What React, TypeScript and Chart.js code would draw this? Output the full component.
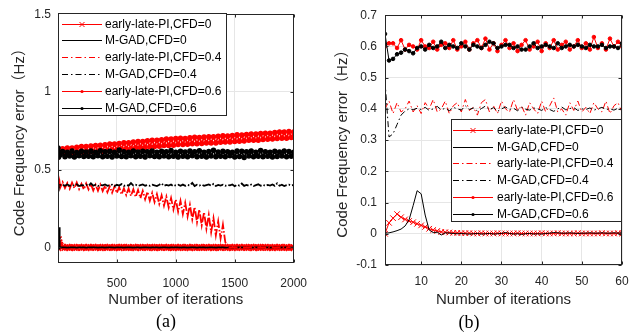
import React, { useEffect, useRef } from 'react';
import { Chart, registerables } from 'chart.js';

Chart.register(...registerables);

const SANS = '"Liberation Sans", Arial, Helvetica, "Noto Sans CJK SC", sans-serif';

const LABELS = [
  'early-late-PI,CFD=0',
  'M-GAD,CFD=0',
  'early-late-PI,CFD=0.4',
  'M-GAD,CFD=0.4',
  'early-late-PI,CFD=0.6',
  'M-GAD,CFD=0.6',
];

const X_TITLE = 'Number of iterations';
const Y_TITLE = 'Code Frequency error（Hz）';

// ---------- panel (a) ----------
const A_ITER = [
  1, 5, 10, 15,
  20, 40, 60, 80, 100, 120, 140, 160, 180, 200,
  220, 240, 260, 280, 300, 320, 340, 360, 380, 400,
  420, 440, 460, 480, 500, 520, 540, 560, 580, 600,
  620, 640, 660, 680, 700, 720, 740, 760, 780, 800,
  820, 840, 860, 880, 900, 920, 940, 960, 980, 1000,
  1020, 1040, 1060, 1080, 1100, 1120, 1140, 1160, 1180, 1200,
  1220, 1240, 1260, 1280, 1300, 1320, 1340, 1360, 1380, 1400,
  1420, 1440, 1460, 1480, 1500, 1520, 1540, 1560, 1580, 1600,
  1620, 1640, 1660, 1680, 1700, 1720, 1740, 1760, 1780, 1800,
  1820, 1840, 1860, 1880, 1900, 1920, 1940, 1960, 1980, 2000,
];

const A_PI_0 = [
  0, 0.05, 0.03, 0.015, 0.006,
  0.002, -0.001, 0.001, -0.002, 0.001, 0.0, -0.001, 0.002, -0.001, 0.001,
  -0.002, 0.001, 0.0, 0.002, -0.001, 0.001, -0.002, 0.0, 0.001, -0.001,
  0.002, -0.001, 0.0, 0.001, -0.002, 0.001, 0.002, -0.001, 0.0, -0.001,
  0.001, -0.002, 0.002, 0.0, -0.001, 0.001, -0.001, 0.002, 0.0, -0.002,
  0.001, 0.0, -0.001, 0.002, -0.001, 0.001, 0.0, -0.002, 0.001, -0.001,
  0.002, 0.0, -0.001, 0.001, -0.002, 0.002, 0.0, -0.001, 0.001, -0.001,
  0.0, 0.002, -0.001, 0.001, -0.002, 0.0, 0.001, -0.001, 0.002, 0.0,
  -0.001, 0.001, -0.002, 0.001, 0.0, 0.002, -0.001, 0.001, -0.001, 0.0,
  0.002, -0.002, 0.001, 0.0, -0.001, 0.001, 0.002, -0.001, 0.0, -0.002,
  0.001, -0.001, 0.002, 0.0, -0.001, 0.001, -0.002, 0.001, 0.0,
];

const A_GAD_0 = [
  0.002, 0.015, 0.13, -0.003, 0.002,
  0.001, 0, -0.001, 0.001, 0, 0.001, -0.001, 0, 0.001, 0,
  -0.001, 0.001, 0, 0, 0.001, -0.001, 0.001, 0, -0.001, 0.001,
  0, 0.001, -0.001, 0, 0.001, 0, -0.001, 0.001, 0, 0.001,
  -0.001, 0, 0.001, -0.001, 0, 0.001, 0, -0.001, 0.001, 0,
  0.001, -0.001, 0, 0.001, 0, -0.001, 0.001, 0, 0, 0.001,
  -0.001, 0.001, 0, -0.001, 0.001, 0, 0.001, -0.001, 0, 0.001,
  0, -0.001, 0.001, 0, 0.001, -0.001, 0, 0.001, 0, -0.001,
  0.001, 0, -0.001, 0.001, 0, 0, 0.001, -0.001, 0.001, 0,
  -0.001, 0.001, 0, 0.001, -0.001, 0, 0.001, 0, -0.001, 0.001,
  0, 0.001, -0.001, 0, 0.001, 0, -0.001, 0.001, 0,
];

const A_PI_04 = [
  0.4, 0.42, 0.38, 0.415, 0.385,
  0.420, 0.382, 0.414, 0.377, 0.417, 0.381, 0.418, 0.375, 0.410, 0.373,
  0.412, 0.373, 0.408, 0.366, 0.403, 0.364, 0.404, 0.363, 0.398, 0.355,
  0.393, 0.352, 0.392, 0.350, 0.387, 0.341, 0.380, 0.337, 0.379, 0.331,
  0.374, 0.325, 0.369, 0.317, 0.364, 0.310, 0.358, 0.301, 0.351, 0.292,
  0.343, 0.280, 0.335, 0.269, 0.327, 0.257, 0.318, 0.244, 0.309, 0.230,
  0.299, 0.215, 0.287, 0.199, 0.274, 0.181, 0.260, 0.162, 0.244, 0.142,
  0.227, 0.120, 0.209, 0.098, 0.188, 0.078, 0.168, 0.058, 0.146, 0.035,
  0.0,
  0.001, -0.001, 0.002, 0, -0.001, 0.001, -0.002, 0.001, 0, 0.002,
  -0.001, 0.001, 0, -0.002, 0.001, 0.001, -0.001, 0, 0.002, -0.001,
  0.001, -0.001, 0, 0.002, -0.001, 0.001, 0, -0.001,
];

const A_GAD_04 = [
  0.48, 0.36, 0.4, 0.398, 0.402,
  0.403, 0.397, 0.405, 0.396, 0.402, 0.398, 0.406, 0.395, 0.401, 0.399,
  0.404, 0.396, 0.412, 0.397, 0.403, 0.395, 0.402, 0.399, 0.405, 0.396,
  0.401, 0.404, 0.394, 0.403, 0.398, 0.407, 0.396, 0.402, 0.397, 0.414,
  0.398, 0.403, 0.395, 0.401, 0.405, 0.397, 0.402, 0.396, 0.404, 0.399,
  0.395, 0.403, 0.412, 0.396, 0.402, 0.398, 0.405, 0.394, 0.401, 0.403,
  0.397, 0.404, 0.396, 0.402, 0.399, 0.415, 0.395, 0.403, 0.398, 0.404,
  0.396, 0.401, 0.405, 0.397, 0.409, 0.395, 0.402, 0.398, 0.404, 0.396,
  0.402, 0.399, 0.405, 0.394, 0.403, 0.398, 0.411, 0.396, 0.402, 0.397,
  0.404, 0.395, 0.401, 0.406, 0.397, 0.403, 0.396, 0.402, 0.398, 0.405,
  0.396, 0.412, 0.397, 0.403, 0.395, 0.401, 0.404, 0.398, 0.402,
];

const A_PI_06 = [
  0.61, 0.6, 0.615, 0.605, 0.62,
  0.634, 0.599, 0.639, 0.600, 0.639, 0.602, 0.644, 0.607, 0.649, 0.608,
  0.649, 0.610, 0.653, 0.616, 0.656, 0.617, 0.657, 0.618, 0.661, 0.623,
  0.665, 0.625, 0.665, 0.627, 0.669, 0.632, 0.674, 0.634, 0.674, 0.635,
  0.678, 0.641, 0.682, 0.642, 0.682, 0.642, 0.686, 0.648, 0.689, 0.649,
  0.689, 0.651, 0.693, 0.655, 0.697, 0.656, 0.697, 0.658, 0.700, 0.662,
  0.703, 0.662, 0.701, 0.663, 0.705, 0.667, 0.708, 0.667, 0.707, 0.668,
  0.710, 0.672, 0.712, 0.672, 0.712, 0.672, 0.715, 0.677, 0.718, 0.678,
  0.716, 0.678, 0.720, 0.682, 0.724, 0.683, 0.723, 0.684, 0.726, 0.689,
  0.729, 0.689, 0.729, 0.689, 0.732, 0.694, 0.735, 0.696, 0.735, 0.697,
  0.739, 0.701, 0.743, 0.702, 0.742, 0.703, 0.745, 0.707, 0.743,
];

const A_GAD_06 = [
  0.64, 0.58, 0.6, 0.61, 0.595,
  0.617, 0.584, 0.613, 0.588, 0.621, 0.582, 0.611, 0.590, 0.618, 0.585,
  0.614, 0.587, 0.620, 0.583, 0.612, 0.589, 0.622, 0.584, 0.615, 0.586,
  0.619, 0.582, 0.613, 0.588, 0.626, 0.585, 0.616, 0.583, 0.612, 0.590,
  0.620, 0.584, 0.614, 0.587, 0.618, 0.581, 0.615, 0.589, 0.621, 0.585,
  0.613, 0.583, 0.619, 0.588, 0.616, 0.584, 0.624, 0.586, 0.612, 0.582,
  0.618, 0.587, 0.614, 0.583, 0.620, 0.589, 0.615, 0.584, 0.622, 0.586,
  0.613, 0.581, 0.617, 0.588, 0.625, 0.583, 0.614, 0.587, 0.619, 0.584,
  0.616, 0.589, 0.612, 0.582, 0.621, 0.585, 0.618, 0.578, 0.615, 0.588,
  0.620, 0.583, 0.613, 0.587, 0.623, 0.584, 0.616, 0.586, 0.612, 0.582,
  0.619, 0.585, 0.614, 0.588, 0.621, 0.583, 0.617, 0.586, 0.612,
];

const A_X_TICKS = [500, 1000, 1500, 2000];
const A_Y_TICKS = [0, 0.5, 1, 1.5];

// ---------- panel (b) ----------
const B_ITER = [
  1, 2, 3, 4, 5, 6, 7, 8, 9, 10,
  11, 12, 13, 14, 15, 16, 17, 18, 19, 20,
  21, 22, 23, 24, 25, 26, 27, 28, 29, 30,
  31, 32, 33, 34, 35, 36, 37, 38, 39, 40,
  41, 42, 43, 44, 45, 46, 47, 48, 49, 50,
  51, 52, 53, 54, 55, 56, 57, 58, 59, 60,
];

const B_PI_0 = [
  0, 0.035, 0.05, 0.063, 0.053, 0.046, 0.041, 0.037, 0.032, 0.027,
  0.022, 0.016, 0.012, 0.009, 0.006, 0.005, 0.004, 0.003, 0.003, 0.002,
  0.002, 0.002, 0.001, 0.001, 0.002, 0.001, 0.001, 0.001, 0.002, 0.001,
  0.001, 0.001, 0.001, 0.002, 0.001, 0.001, 0.001, 0.001, 0.001, 0.002,
  0.001, 0.001, 0.001, 0.002, 0.001, 0.001, 0.001, 0.001, 0.002, 0.001,
  0.001, 0.001, 0.001, 0.001, 0.002, 0.001, 0.001, 0.001, 0.002, 0.001,
];

const B_GAD_0 = [
  0.002, 0.003, 0.006, 0.01, 0.015, 0.025, 0.045, 0.09, 0.138, 0.128,
  0.06, 0.012, 0.004, 0.005, -0.004, 0.003, 0.002, 0.001, 0.0, 0.001,
  0.0, -0.001, 0.0, 0.001, -0.001, 0.0, 0.001, -0.001, 0.0, 0.001,
  0.004, 0.001, -0.001, 0.0, -0.002, 0.0, 0.001, -0.001, 0.0, -0.001,
  0.001, 0.002, 0.004, 0.003, 0.002, 0.002, 0.003, 0.002, 0.001, 0.002,
  0.002, 0.003, 0.002, 0.002, 0.003, 0.002, 0.002, 0.003, 0.002, 0.003,
];

const B_PI_04 = [
  0.40, 0.425, 0.385, 0.42, 0.39, 0.40, 0.425, 0.39, 0.41, 0.385,
  0.42, 0.40, 0.43, 0.39, 0.40, 0.425, 0.385, 0.41, 0.42, 0.39,
  0.43, 0.395, 0.405, 0.38, 0.42, 0.43, 0.39, 0.41, 0.385, 0.425,
  0.40, 0.39, 0.43, 0.395, 0.41, 0.38, 0.42, 0.40, 0.385, 0.425,
  0.39, 0.41, 0.435, 0.39, 0.40, 0.38, 0.42, 0.395, 0.425, 0.39,
  0.405, 0.385, 0.42, 0.40, 0.39, 0.425, 0.385, 0.41, 0.42, 0.39,
];

const B_GAD_04 = [
  0.49, 0.31, 0.32, 0.35, 0.38, 0.393, 0.40, 0.397, 0.402, 0.398,
  0.405, 0.395, 0.40, 0.408, 0.397, 0.402, 0.394, 0.405, 0.40, 0.396,
  0.41, 0.398, 0.403, 0.393, 0.401, 0.409, 0.397, 0.404, 0.392, 0.40,
  0.406, 0.398, 0.402, 0.394, 0.405, 0.399, 0.396, 0.403, 0.40, 0.395,
  0.404, 0.398, 0.392, 0.40, 0.406, 0.397, 0.401, 0.404, 0.395, 0.40,
  0.398, 0.403, 0.396, 0.40, 0.405, 0.398, 0.40, 0.396, 0.402, 0.397,
];

const B_PI_06 = [
  0.60, 0.61, 0.61, 0.595, 0.62, 0.59, 0.605, 0.60, 0.59, 0.62,
  0.60, 0.595, 0.615, 0.59, 0.605, 0.61, 0.595, 0.62, 0.59, 0.60,
  0.615, 0.59, 0.61, 0.62, 0.595, 0.625, 0.59, 0.61, 0.585, 0.605,
  0.62, 0.595, 0.61, 0.585, 0.605, 0.62, 0.59, 0.60, 0.615, 0.585,
  0.61, 0.595, 0.62, 0.59, 0.605, 0.615, 0.59, 0.60, 0.62, 0.595,
  0.61, 0.59, 0.63, 0.595, 0.61, 0.59, 0.625, 0.60, 0.615, 0.60,
];

const B_GAD_06 = [
  0.64, 0.555, 0.56, 0.575, 0.58, 0.59, 0.585, 0.578, 0.595, 0.60,
  0.59, 0.605, 0.595, 0.60, 0.615, 0.595, 0.605, 0.60, 0.595, 0.61,
  0.60, 0.59, 0.605, 0.60, 0.595, 0.605, 0.615, 0.61, 0.595, 0.60,
  0.605, 0.605, 0.595, 0.60, 0.59, 0.59, 0.60, 0.61, 0.595, 0.60,
  0.605, 0.60, 0.595, 0.61, 0.595, 0.60, 0.605, 0.60, 0.605, 0.60,
  0.595, 0.605, 0.60, 0.60, 0.605, 0.595, 0.60, 0.60, 0.595, 0.61,
];

const B_X_TICKS = [10, 20, 30, 40, 50, 60];
const B_Y_TICKS = [-0.1, 0, 0.1, 0.2, 0.3, 0.4, 0.5, 0.6, 0.7];

// ---------- styles ----------
const DASHDOT = [6, 3, 1.5, 3];
const DASHDOT_DENSE = [9, 2, 1.5, 2];
const STYLES = [
  { color: '#ff0000', dashed: false, marker: 'crossRot' },
  { color: '#000000', dashed: false, marker: '' },
  { color: '#ff0000', dashed: true, marker: '' },
  { color: '#000000', dashed: true, marker: '' },
  { color: '#ff0000', dashed: false, marker: 'circle' },
  { color: '#000000', dashed: false, marker: 'circle' },
];

type DrawCfg = { crossR: number; dotR: number; lw: number; pbw: number; dash: number[] };

function buildDatasets(iter: number[], series: number[][], d: DrawCfg) {
  return series.map((vals, i) => {
    const st = STYLES[i];
    const r = st.marker === 'crossRot' ? d.crossR : st.marker === 'circle' ? d.dotR : 0;
    return {
      label: LABELS[i],
      data: iter.map((x, k) => ({ x, y: vals[k] })),
      borderColor: st.color,
      backgroundColor: st.color,
      borderWidth: d.lw,
      borderDash: st.dashed ? d.dash : [],
      legendDash: st.dashed ? DASHDOT : [],
      pointStyle: st.marker || 'circle',
      pointRadius: r,
      pointBorderColor: st.color,
      pointBackgroundColor: st.color,
      pointBorderWidth: d.pbw,
      tension: 0,
      order: series.length - i,
    };
  });
}

const framePlugin = {
  id: 'matlabFrame',
  afterDatasetsDraw(chart: any) {
    const { ctx, chartArea: a, scales } = chart;
    const L = Math.round(a.left) + 0.5;
    const R = Math.round(a.right) - 0.5;
    const T = Math.round(a.top) + 0.5;
    const B = Math.round(a.bottom) - 0.5;
    ctx.save();
    ctx.setLineDash([]);
    ctx.strokeStyle = '#262626';
    ctx.lineWidth = 1;
    ctx.strokeRect(L, T, R - L, B - T);
    const tl = 3;
    ctx.beginPath();
    for (const t of scales.x.ticks) {
      const px = Math.round(scales.x.getPixelForValue(t.value)) + 0.5;
      ctx.moveTo(px, B); ctx.lineTo(px, B - tl);
      ctx.moveTo(px, T); ctx.lineTo(px, T + tl);
    }
    for (const t of scales.y.ticks) {
      const py = Math.round(scales.y.getPixelForValue(t.value)) + 0.5;
      ctx.moveTo(L, py); ctx.lineTo(L + tl, py);
      ctx.moveTo(R, py); ctx.lineTo(R - tl, py);
    }
    ctx.stroke();
    ctx.restore();
  },
};

type LegendCfg = { x: number; y: number; w: number; h: number; row0: number; dy: number; l0: number; l1: number; tx: number };

function makeLegendPlugin(cfg: LegendCfg) {
  return {
    id: 'boxLegend',
    afterDraw(chart: any) {
      const { ctx } = chart;
      ctx.save();
      ctx.setLineDash([]);
      ctx.fillStyle = '#ffffff';
      ctx.fillRect(cfg.x, cfg.y, cfg.w, cfg.h);
      ctx.strokeStyle = '#262626';
      ctx.lineWidth = 1;
      ctx.strokeRect(cfg.x + 0.5, cfg.y + 0.5, cfg.w - 1, cfg.h - 1);
      ctx.font = '12px ' + SANS;
      ctx.textBaseline = 'middle';
      ctx.textAlign = 'left';
      chart.data.datasets.forEach((ds: any, i: number) => {
        const y = Math.round(cfg.row0 + i * cfg.dy) + 0.5;
        ctx.strokeStyle = ds.borderColor;
        ctx.lineWidth = 1;
        ctx.setLineDash(ds.legendDash || []);
        ctx.beginPath();
        ctx.moveTo(cfg.l0, y);
        ctx.lineTo(cfg.l1, y);
        ctx.stroke();
        ctx.setLineDash([]);
        const mx = (cfg.l0 + cfg.l1) / 2;
        if (ds.pointRadius > 0) {
          if (ds.pointStyle === 'crossRot') {
            const s = 2.5;
            ctx.beginPath();
            ctx.moveTo(mx - s, y - s); ctx.lineTo(mx + s, y + s);
            ctx.moveTo(mx - s, y + s); ctx.lineTo(mx + s, y - s);
            ctx.stroke();
          } else {
            ctx.fillStyle = ds.borderColor;
            ctx.beginPath();
            ctx.arc(mx, y, 1.6, 0, Math.PI * 2);
            ctx.fill();
          }
        }
        ctx.fillStyle = '#000000';
        ctx.fillText(ds.label, cfg.tx, y);
      });
      ctx.restore();
    },
  };
}

type PanelCfg = {
  xMin: number; xMax: number; yMin: number; yMax: number;
  xTicks: number[]; yTicks: number[];
  yAxisW: number; xAxisH: number;
  padR: number; padT: number; padB: number;
  yTitlePad: number; xTickPad: number; yTickPad: number;
};

function makeOptions(p: PanelCfg): any {
  return {
    responsive: false,
    animation: false,
    events: [],
    layout: { padding: { left: 0, right: p.padR, top: p.padT, bottom: p.padB } },
    plugins: { legend: { display: false }, tooltip: { enabled: false }, title: { display: false } },
    scales: {
      x: {
        type: 'linear',
        min: p.xMin,
        max: p.xMax,
        afterBuildTicks: (s: any) => { s.ticks = p.xTicks.map((v) => ({ value: v })); },
        afterFit: (s: any) => { s.height = p.xAxisH; },
        grid: { color: '#e6e6e6', drawTicks: false, lineWidth: 1 },
        border: { display: false },
        ticks: {
          autoSkip: false, maxRotation: 0, minRotation: 0,
          padding: p.xTickPad, color: '#262626',
          font: { size: 12, family: SANS },
          callback: (v: any) => String(v),
        },
        title: {
          display: true, text: X_TITLE, color: '#262626',
          font: { size: 15, family: SANS }, padding: { top: 0, bottom: 0 },
        },
      },
      y: {
        type: 'linear',
        min: p.yMin,
        max: p.yMax,
        afterBuildTicks: (s: any) => { s.ticks = p.yTicks.map((v) => ({ value: v })); },
        afterFit: (s: any) => { s.width = p.yAxisW; },
        grid: { color: '#e6e6e6', drawTicks: false, lineWidth: 1 },
        border: { display: false },
        ticks: {
          autoSkip: false, padding: p.yTickPad, color: '#262626',
          font: { size: 12, family: SANS },
          callback: (v: any) => String(v),
        },
        title: {
          display: true, text: Y_TITLE, color: '#262626',
          font: { size: 15, family: SANS }, padding: { top: p.yTitlePad, bottom: 0 },
        },
      },
    },
  };
}

export default function App() {
  const refA = useRef<HTMLCanvasElement | null>(null);
  const refB = useRef<HTMLCanvasElement | null>(null);

  useEffect(() => {
    if (!refA.current || !refB.current) return;
    const chartA = new Chart(refA.current, {
      type: 'line',
      data: {
        datasets: buildDatasets(A_ITER, [A_PI_0, A_GAD_0, A_PI_04, A_GAD_04, A_PI_06, A_GAD_06],
          { crossR: 4.5, dotR: 2, lw: 1.8, pbw: 1.5, dash: DASHDOT_DENSE }) as any,
      },
      options: makeOptions({
        xMin: 1, xMax: 2000, yMin: -0.1, yMax: 1.5,
        xTicks: A_X_TICKS, yTicks: A_Y_TICKS,
        yAxisW: 58, xAxisH: 46, padR: 23, padT: 13, padB: 24,
        yTitlePad: 11, xTickPad: 13, yTickPad: 7,
      }),
      plugins: [framePlugin, makeLegendPlugin({ x: 58, y: 13, w: 169, h: 103, row0: 23.5, dy: 16.8, l0: 62, l1: 102, tx: 105 })],
    });
    const chartB = new Chart(refB.current, {
      type: 'line',
      data: {
        datasets: buildDatasets(B_ITER, [B_PI_0, B_GAD_0, B_PI_04, B_GAD_04, B_PI_06, B_GAD_06],
          { crossR: 4, dotR: 1.8, lw: 1, pbw: 1, dash: DASHDOT }) as any,
      },
      options: makeOptions({
        xMin: 1, xMax: 60, yMin: -0.1, yMax: 0.7,
        xTicks: B_X_TICKS, yTicks: B_Y_TICKS,
        yAxisW: 65, xAxisH: 44, padR: 17, padT: 13, padB: 24,
        yTitlePad: 14, xTickPad: 9, yTickPad: 8,
      }),
      plugins: [framePlugin, makeLegendPlugin({ x: 131, y: 119, w: 171, h: 103, row0: 130, dy: 16.7, l0: 133, l1: 173, tx: 177 })],
    });
    return () => {
      chartA.destroy();
      chartB.destroy();
    };
  }, []);

  const capStyle: React.CSSProperties = {
    position: 'absolute',
    transform: 'translate(-50%, -50%)',
    fontFamily: '"Liberation Serif", "Times New Roman", serif',
    fontSize: 18,
    lineHeight: 1,
    color: '#000',
    whiteSpace: 'nowrap',
  };

  return (
    <div style={{ position: 'absolute', left: 0, top: 0, width: 639, height: 333, background: '#fff', overflow: 'hidden' }}>
      <canvas ref={refA} width={320} height={333} style={{ position: 'absolute', left: 0, top: 0 }} />
      <canvas ref={refB} width={319} height={333} style={{ position: 'absolute', left: 320, top: 0 }} />
      <div style={{ ...capStyle, left: 166, top: 321 }}>(a)</div>
      <div style={{ ...capStyle, left: 469, top: 322 }}>(b)</div>
    </div>
  );
}
